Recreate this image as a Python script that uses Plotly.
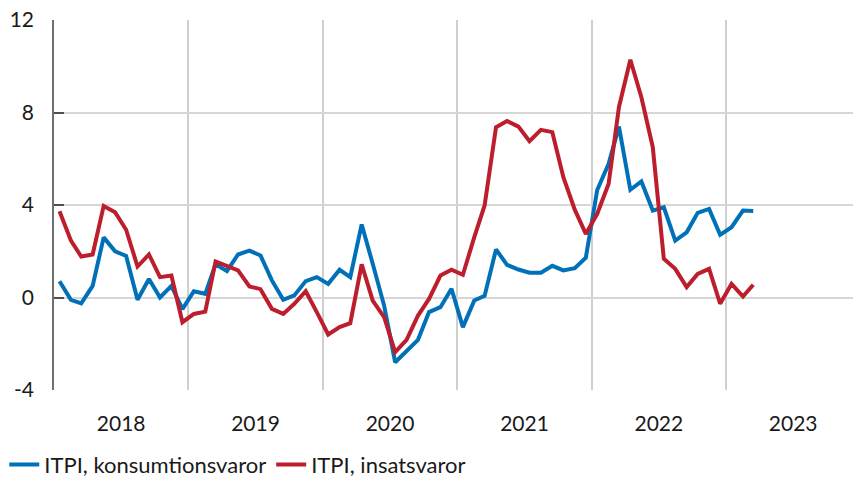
import pandas as pd
import plotly.graph_objects as go

# Monthly observations, Jan 2018 - Mar 2023 (percent)
months = pd.date_range("2018-01-01", periods=63, freq="MS") + pd.Timedelta(days=15)

konsumtionsvaror = [
    0.7, -0.1, -0.25, 0.5, 2.6, 2.0, 1.8, -0.1, 0.8, 0.0, 0.5, -0.5,
    0.27, 0.16, 1.44, 1.14, 1.86, 2.03, 1.82, 0.74, -0.1, 0.09, 0.71, 0.88,
    0.59, 1.2, 0.88, 3.16, 1.46, -0.35, -2.8, -2.29, -1.83, -0.63, -0.42, 0.38,
    -1.28, -0.13, 0.07, 2.08, 1.41, 1.21, 1.07, 1.07, 1.37, 1.17, 1.27, 1.72,
    4.65, 5.78, 7.39, 4.66, 5.02, 3.76, 3.9, 2.46, 2.82, 3.66, 3.83, 2.71,
    3.04, 3.76, 3.74,
]

insatsvaror = [
    3.73, 2.46, 1.77, 1.86, 3.96, 3.69, 2.93, 1.34, 1.86, 0.88, 0.95, -1.07,
    -0.71, -0.61, 1.56, 1.38, 1.17, 0.48, 0.36, -0.49, -0.71, -0.27, 0.27, -0.63,
    -1.6, -1.28, -1.11, 1.43, -0.13, -0.85, -2.36, -1.83, -0.78, -0.06, 0.95, 1.2,
    0.98, 2.61, 3.98, 7.36, 7.63, 7.39, 6.76, 7.25, 7.15, 5.2, 3.8, 2.75,
    3.62, 4.92, 8.23, 10.28, 8.66, 6.5, 1.67, 1.24, 0.45, 1.02, 1.24, -0.27,
    0.59, 0.04, 0.55,
]

y_ticks = [-4, 0, 4, 8, 12]
y_tick_text = ["-4", "0", "4", "8", "12"]

BLUE = "#0070b8"
RED = "#bd1e2d"
FONT = "Lato"
FS = 21

fig = go.Figure()
fig.add_trace(go.Scatter(
    x=months, y=konsumtionsvaror, mode="lines",
    name="ITPI, konsumtionsvaror",
    line=dict(color=BLUE, width=4),
))
fig.add_trace(go.Scatter(
    x=months, y=insatsvaror, mode="lines",
    name="ITPI, insatsvaror",
    line=dict(color=RED, width=4),
))

fig.update_layout(
    width=853, height=478,
    margin=dict(l=54, r=0, t=20, b=88, autoexpand=False),
    plot_bgcolor="white", paper_bgcolor="white",
    font=dict(family=FONT, size=FS, color="#1a1a1a"),
    showlegend=True,
    legend=dict(
        orientation="h",
        xref="container", x=0.005, xanchor="left",
        yref="container", y=0.028, yanchor="middle",
        font=dict(family=FONT, size=22, color="#1a1a1a"),
        itemwidth=30, tracegroupgap=0, bgcolor="rgba(0,0,0,0)",
    ),
)

fig.update_xaxes(
    type="date",
    range=["2018-01-01", "2023-12-12"],
    dtick="M12", tick0="2018-01-01",
    tickformat="%Y", ticklabelmode="period",
    ticks="", showline=False, zeroline=False,
    showgrid=True, gridcolor="#cfcfcf", gridwidth=1.5,
    ticklabelstandoff=19,
    tickfont=dict(family=FONT, size=FS, color="#1a1a1a"),
)

fig.update_yaxes(
    range=[-4, 12],
    tickvals=y_ticks, ticktext=y_tick_text,
    showgrid=True, gridcolor="#d6d6d6", gridwidth=1.5,
    zeroline=False,
    showline=True, linecolor="#707070", linewidth=1.5,
    ticks="inside", ticklen=10, tickcolor="#505050", tickwidth=1.5,
    ticklabelstandoff=14,
    tickfont=dict(family=FONT, size=FS, color="#1a1a1a"),
)

fig.write_html("out.html")
